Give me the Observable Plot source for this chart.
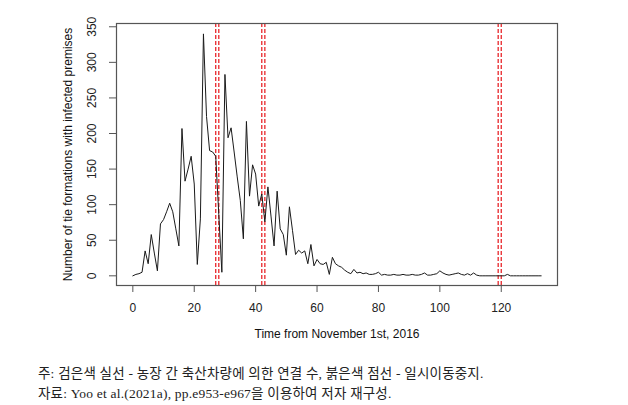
<!DOCTYPE html>
<html>
<head>
<meta charset="utf-8">
<script src="https://cdn.jsdelivr.net/npm/d3@7"></script>
<script src="https://cdn.jsdelivr.net/npm/@observablehq/plot@0.6"></script>
<style>
  html, body { margin: 0; padding: 0; background: #fff; }
  #chart svg { display: block; }
  .cap { font-family: "Liberation Serif", "Noto Sans CJK KR", serif; font-size: 13.5px; letter-spacing: 0.2px; color: #222; padding-left: 38px; line-height: 20px; }
</style>
</head>
<body>
<div id="chart"></div>
<div class="cap" style="padding-top:18px">주: 검은색 실선 - 농장 간 축산차량에 의한 연결 수, 붉은색 점선 - 일시이동중지.</div>
<div class="cap">자료: Yoo et al.(2021a), pp.e953-e967을 이용하여 저자 재구성.</div>
<script>
// Daily number of tie formations with infected premises (day 0 = Nov 1, 2016)
const days = d3.range(0, 134);
const counts = [
  0, 2, 3, 5, 35, 17, 58, 32, 7, 73,
  79, 90, 102, 90, 66, 42, 207, 133, 150, 168,
  129, 16, 80, 340, 224, 176, 174, 168, 86, 5,
  283, 194, 208, 174, 139, 106, 52, 217, 112, 156,
  143, 98, 115, 76, 125, 84, 42, 119, 66, 58,
  29, 97, 64, 30, 36, 32, 35, 17, 44, 14,
  23, 17, 16, 19, 2, 26, 17, 14, 12, 8,
  5, 3, 9, 4, 5, 3, 4, 2, 2, 3,
  5, 1, 2, 1, 1, 2, 1, 1, 2, 1,
  1, 2, 1, 1, 2, 4, 1, 1, 2, 3,
  7, 4, 2, 1, 2, 3, 4, 2, 1, 3,
  1, 4, 1, 0, 0, 0, 0, 0, 0, 0,
  0, 0, 2, 0, 0, 0, 0, 0, 0, 0,
  0, 0, 0, 0
];
// Temporary standstill days (red dashed lines)
const standstill = [27, 28, 42, 43, 119, 120];
const xTicks = [0, 20, 40, 60, 80, 100, 120];
const yTicks = [0, 50, 100, 150, 200, 250, 300, 350];
const xTitle = "Time from November 1st, 2016";
const yTitle = "Number of tie formations with infected premises";

const series = days.map((d, i) => ({day: d, n: counts[i]}));
const font = "'Liberation Sans', Arial, sans-serif";

const W = 628, H = 346, mL = 116, mR = 71, mT = 23, mB = 61;
const xDom = [-5.32, 138.32], yDom = [-13.6, 354.6];
// tick length of 7px expressed in data units
const xUnit = (xDom[1] - xDom[0]) / (W - mL - mR);
const yUnit = (yDom[1] - yDom[0]) / (H - mT - mB);

const chart = Plot.plot({
  width: W,
  height: H,
  marginLeft: mL,
  marginRight: mR,
  marginTop: mT,
  marginBottom: mB,
  style: {fontFamily: font, fontSize: "12px", color: "#222", background: "#fff"},
  x: {domain: xDom, axis: null},
  y: {domain: yDom, axis: null},
  marks: [
    Plot.ruleX(standstill, {x: d => d, stroke: "#e8262a", strokeWidth: 1.3, strokeDasharray: "4,2"}),
    Plot.line(series, {x: "day", y: "n", stroke: "#1a1a1a", strokeWidth: 1}),
    Plot.frame({stroke: "#555", strokeWidth: 1.2}),
    Plot.ruleX(xTicks, {x: d => d, y1: yDom[0], y2: yDom[0] - 7 * yUnit, stroke: "#555"}),
    Plot.text(xTicks, {x: d => d, text: d => String(d), frameAnchor: "bottom", dy: 23, textAnchor: "middle", lineAnchor: "middle", fill: "#222", fontSize: 12}),
    Plot.ruleY(yTicks, {y: d => d, x1: xDom[0], x2: xDom[0] - 7 * xUnit, stroke: "#555"}),
    Plot.text(yTicks, {y: d => d, text: d => String(d), frameAnchor: "left", dx: -24, rotate: -90, textAnchor: "middle", lineAnchor: "middle", fill: "#222", fontSize: 12}),
    Plot.text([xTitle], {text: d => d, frameAnchor: "bottom", dy: 49, textAnchor: "middle", lineAnchor: "middle", fill: "#111", fontSize: 12}),
    Plot.text([yTitle], {text: d => d, frameAnchor: "left", dx: -48, rotate: -90, textAnchor: "middle", lineAnchor: "middle", fill: "#111", fontSize: 12})
  ]
});
document.getElementById("chart").appendChild(chart);
</script>
</body>
</html>
